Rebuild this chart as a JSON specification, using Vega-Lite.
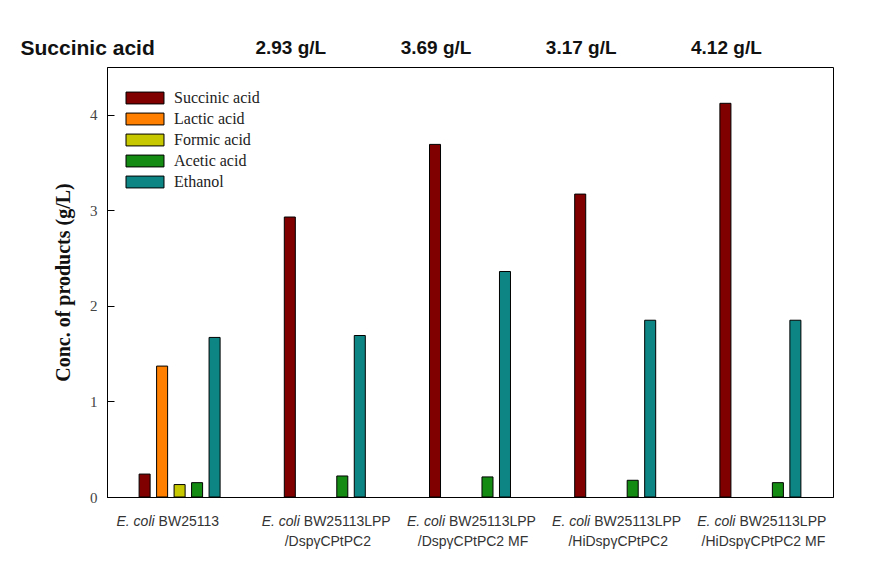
{
  "$schema": "https://vega.github.io/schema/vega-lite/v6.json",
  "autosize": {"type": "none"},
  "padding": {"left": 107, "top": 67, "right": 37, "bottom": 83},
  "width": 726,
  "height": 430,
  "background": "white",
  "config": {
    "view": {"stroke": "black", "strokeWidth": 1},
    "font": "Liberation Serif"
  },
  "title": {
    "text": "Succinic acid",
    "anchor": "start",
    "frame": "bounds",
    "font": "Liberation Sans",
    "fontSize": 21,
    "fontWeight": "bold",
    "color": "#111111",
    "baseline": "alphabetic",
    "offset": 12,
    "dx": -33,
    "dy": 49
  },
  "datasets": {
    "bars": [
      {"group": "BW25113", "product": "Succinic acid", "value": 0.24},
      {"group": "BW25113", "product": "Lactic acid", "value": 1.37},
      {"group": "BW25113", "product": "Formic acid", "value": 0.13},
      {"group": "BW25113", "product": "Acetic acid", "value": 0.15},
      {"group": "BW25113", "product": "Ethanol", "value": 1.67},
      {"group": "LPP/DspγCPtPC2", "product": "Succinic acid", "value": 2.93},
      {"group": "LPP/DspγCPtPC2", "product": "Lactic acid", "value": 0},
      {"group": "LPP/DspγCPtPC2", "product": "Formic acid", "value": 0},
      {"group": "LPP/DspγCPtPC2", "product": "Acetic acid", "value": 0.22},
      {"group": "LPP/DspγCPtPC2", "product": "Ethanol", "value": 1.69},
      {"group": "LPP/DspγCPtPC2 MF", "product": "Succinic acid", "value": 3.69},
      {"group": "LPP/DspγCPtPC2 MF", "product": "Lactic acid", "value": 0},
      {"group": "LPP/DspγCPtPC2 MF", "product": "Formic acid", "value": 0},
      {"group": "LPP/DspγCPtPC2 MF", "product": "Acetic acid", "value": 0.21},
      {"group": "LPP/DspγCPtPC2 MF", "product": "Ethanol", "value": 2.36},
      {"group": "LPP/HiDspγCPtPC2", "product": "Succinic acid", "value": 3.17},
      {"group": "LPP/HiDspγCPtPC2", "product": "Lactic acid", "value": 0},
      {"group": "LPP/HiDspγCPtPC2", "product": "Formic acid", "value": 0},
      {"group": "LPP/HiDspγCPtPC2", "product": "Acetic acid", "value": 0.175},
      {"group": "LPP/HiDspγCPtPC2", "product": "Ethanol", "value": 1.85},
      {"group": "LPP/HiDspγCPtPC2 MF", "product": "Succinic acid", "value": 4.12},
      {"group": "LPP/HiDspγCPtPC2 MF", "product": "Lactic acid", "value": 0},
      {"group": "LPP/HiDspγCPtPC2 MF", "product": "Formic acid", "value": 0},
      {"group": "LPP/HiDspγCPtPC2 MF", "product": "Acetic acid", "value": 0.15},
      {"group": "LPP/HiDspγCPtPC2 MF", "product": "Ethanol", "value": 1.85}
    ],
    "groups": [
      {"group": "BW25113", "line1": "BW25113", "line2": "", "top": ""},
      {"group": "LPP/DspγCPtPC2", "line1": "BW25113LPP", "line2": "/DspγCPtPC2", "top": "2.93 g/L"},
      {"group": "LPP/DspγCPtPC2 MF", "line1": "BW25113LPP", "line2": "/DspγCPtPC2 MF", "top": "3.69 g/L"},
      {"group": "LPP/HiDspγCPtPC2", "line1": "BW25113LPP", "line2": "/HiDspγCPtPC2", "top": "3.17 g/L"},
      {"group": "LPP/HiDspγCPtPC2 MF", "line1": "BW25113LPP", "line2": "/HiDspγCPtPC2 MF", "top": "4.12 g/L"}
    ]
  },
  "encoding": {
    "x": {
      "field": "group",
      "type": "nominal",
      "sort": null,
      "scale": {"paddingInner": 0.4, "paddingOuter": 0.2},
      "axis": {"labels": false, "ticks": false, "title": null, "domainColor": "black", "domainWidth": 1}
    }
  },
  "layer": [
    {
      "data": {"name": "bars"},
      "mark": {"type": "bar", "stroke": "black", "strokeWidth": 1, "opacity": 1},
      "encoding": {
        "xOffset": {
          "field": "product",
          "type": "nominal",
          "sort": ["Succinic acid", "Lactic acid", "Formic acid", "Acetic acid", "Ethanol"],
          "scale": {"paddingInner": 0.37, "paddingOuter": 0.175}
        },
        "y": {
          "field": "value",
          "type": "quantitative",
          "scale": {"domain": [0, 4.5], "nice": false, "zero": true},
          "axis": {
            "values": [0, 1, 2, 3, 4],
            "format": "d",
            "grid": false,
            "title": "Conc. of products (g/L)",
            "titleFont": "Liberation Serif",
            "titleFontSize": 20,
            "titleFontWeight": "bold",
            "titleColor": "#111111",
            "titlePadding": 16,
            "labelFont": "Liberation Serif",
            "labelFontSize": 15,
            "labelColor": "#444444",
            "tickSize": -7,
            "tickColor": "black",
            "labelPadding": 17,
            "domainColor": "black"
          }
        },
        "strokeOpacity": {"condition": {"test": "datum.value === 0", "value": 0}, "value": 1},
        "color": {
          "field": "product",
          "type": "nominal",
          "sort": ["Succinic acid", "Lactic acid", "Formic acid", "Acetic acid", "Ethanol"],
          "scale": {
            "domain": ["Succinic acid", "Lactic acid", "Formic acid", "Acetic acid", "Ethanol"],
            "range": ["#800000", "#ff8000", "#c8c800", "#148c14", "#0e8585"]
          },
          "legend": {
            "title": null,
            "orient": "none",
            "legendX": 30,
            "legendY": 23,
            "padding": 0,
            "symbolType": "M-3.2,-1H3.2V1H-3.2Z",
            "symbolSize": 141,
            "symbolStrokeColor": "black",
            "symbolStrokeWidth": 1,
            "symbolOpacity": 1,
            "labelFont": "Liberation Serif",
            "labelFontSize": 16,
            "labelColor": "#222222",
            "labelOffset": 21,
            "rowPadding": 5
          }
        }
      }
    },
    {
      "data": {"name": "groups"},
      "mark": {"type": "text", "text": "E. coli", "font": "Liberation Sans", "fontSize": 14, "fontStyle": "italic", "color": "#333333", "align": "right", "baseline": "middle", "dx": -25},
      "encoding": {
        "y": {"datum": -0.257, "type": "quantitative"}
      }
    },
    {
      "data": {"name": "groups"},
      "mark": {"type": "text", "font": "Liberation Sans", "fontSize": 14, "color": "#333333", "align": "left", "baseline": "middle", "dx": -21},
      "encoding": {
        "y": {"datum": -0.257, "type": "quantitative"},
        "text": {"field": "line1"}
      }
    },
    {
      "data": {"name": "groups"},
      "mark": {"type": "text", "font": "Liberation Sans", "fontSize": 14, "color": "#333333", "align": "center", "baseline": "middle", "dx": 3},
      "encoding": {
        "y": {"datum": -0.476, "type": "quantitative"},
        "text": {"field": "line2"}
      }
    },
    {
      "data": {"name": "groups"},
      "mark": {"type": "text", "font": "Liberation Sans", "fontSize": 19, "fontWeight": "bold", "color": "#111111", "align": "center", "baseline": "middle", "dx": -34},
      "encoding": {
        "y": {"datum": 4.7, "type": "quantitative"},
        "text": {"field": "top"}
      }
    }
  ]
}
